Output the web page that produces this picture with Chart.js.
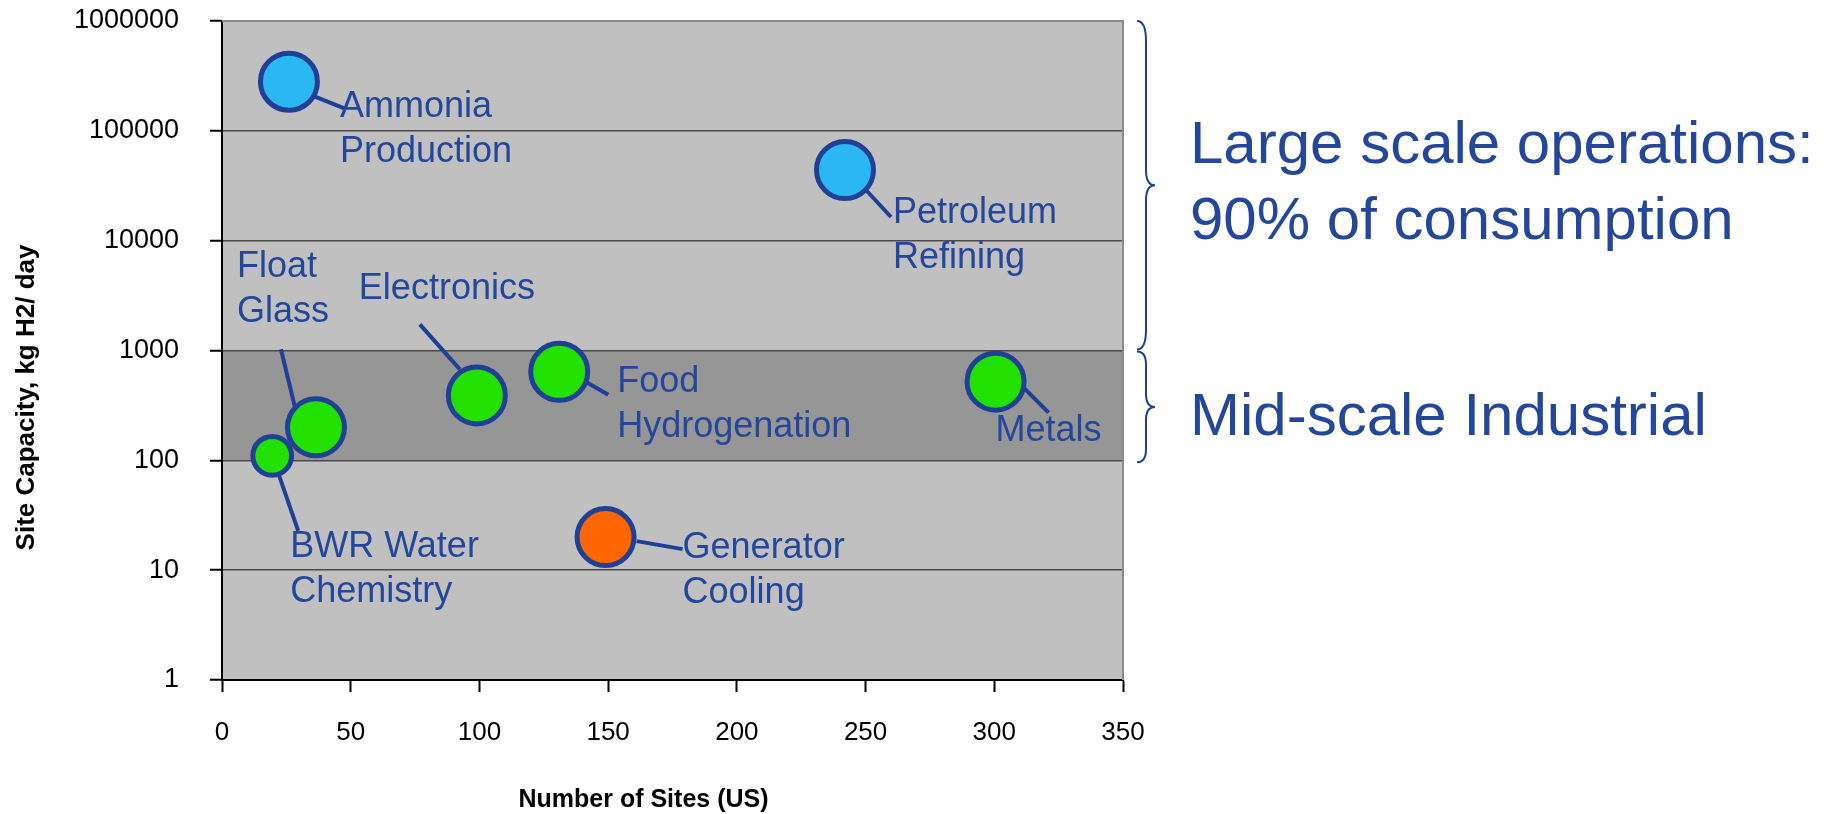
<!DOCTYPE html>
<html>
<head>
<meta charset="utf-8">
<title>Hydrogen demand by industry</title>
<script src="https://cdn.jsdelivr.net/npm/chart.js@4/dist/chart.umd.min.js"></script>
<style>
  html, body { margin: 0; padding: 0; background: #ffffff; overflow: hidden; }
  canvas { display: block; }
</style>
</head>
<body>
<canvas id="chart" width="1832" height="814"></canvas>
<script>
// ---- Data -------------------------------------------------------------
const industries = [
  'BWR Water\nChemistry',
  'Float\nGlass',
  'Ammonia\nProduction',
  'Electronics',
  'Food\nHydrogenation',
  'Generator\nCooling',
  'Petroleum\nRefining',
  'Metals'
];
const sitesUS          = [19.5, 36.5, 26, 99, 131, 149, 242, 300.5];
const capacityKgPerDay = [110, 200, 280000, 390, 640, 20, 44000, 520];
const relativeSize     = [0.68, 1, 1, 1, 1, 1, 1, 1];
const segment          = ['mid', 'mid', 'large', 'mid', 'mid', 'small', 'large', 'mid'];

const siteTicks     = [0, 50, 100, 150, 200, 250, 300, 350];
const capacityTicks = [1, 10, 100, 1000, 10000, 100000, 1000000];

const midScaleRange   = [100, 1000];
const largeScaleRange = [1000, 1000000];

const sideNotes = {
  large: ['Large scale operations:', '90% of consumption'],
  mid: ['Mid-scale Industrial']
};

const xTitle = 'Number of Sites (US)';
const yTitle = 'Site Capacity, kg H2/ day';

// ---- Styling ----------------------------------------------------------
const FONT = "'Liberation Sans', Arial, Helvetica, sans-serif";
const INK = '#24479b';
const OUTLINE = '#1f4095';
const segmentFill = { large: '#2bb8f2', mid: '#22e000', small: '#ff6600' };
const BASE_RADIUS = 28.5;

// leader line (from/to) and first text baseline, relative to each bubble centre
const labelPlacement = {
  'Ammonia\nProduction':   { leader: [26, 15, 56, 27],   text: [51, 35] },
  'Petroleum\nRefining':   { leader: [21, 20, 46, 47],   text: [48, 53] },
  'Float\nGlass':          { leader: [-21, -20, -35, -78], text: [-79, -150] },
  'BWR Water\nChemistry':  { leader: [7, 20, 26, 75],    text: [18, 101] },
  'Electronics':           { leader: [-17, -26, -57, -71], text: [-118, -96] },
  'Food\nHydrogenation':   { leader: [23, 8, 49, 23],    text: [58, 20] },
  'Metals':                { leader: [28, 6, 53, 31],    text: [0, 59] },
  'Generator\nCooling':    { leader: [31, 4, 77, 12],    text: [77, 21] }
};
const LABEL_LINE_HEIGHT = 45;

const points = industries.map((name, i) => ({
  x: sitesUS[i],
  y: capacityKgPerDay[i],
  r: BASE_RADIUS * relativeSize[i]
}));

// ---- Drawing helpers --------------------------------------------------
function drawBrace(ctx, x0, yTop, yBottom, endCurl, tipCurl) {
  const spine = x0 + 9;
  const tip = x0 + 18;
  const mid = (yTop + yBottom) / 2;
  ctx.beginPath();
  ctx.moveTo(x0, yTop);
  ctx.quadraticCurveTo(spine, yTop, spine, yTop + endCurl);
  ctx.lineTo(spine, mid - tipCurl);
  ctx.quadraticCurveTo(spine, mid, tip, mid);
  ctx.quadraticCurveTo(spine, mid, spine, mid + tipCurl);
  ctx.lineTo(spine, yBottom - endCurl);
  ctx.quadraticCurveTo(spine, yBottom, x0, yBottom);
  ctx.stroke();
}

const decorations = {
  id: 'decorations',
  beforeDraw(chart) {
    const { ctx, chartArea: a, scales: { y } } = chart;
    ctx.save();
    ctx.fillStyle = '#c0c0c0';
    ctx.fillRect(a.left, a.top, a.right - a.left, a.bottom - a.top);
    const bandTop = y.getPixelForValue(midScaleRange[1]);
    const bandBottom = y.getPixelForValue(midScaleRange[0]);
    ctx.fillStyle = '#969696';
    ctx.fillRect(a.left, bandTop, a.right - a.left, bandBottom - bandTop);
    ctx.restore();
  },
  beforeDatasetsDraw(chart) {
    const { ctx } = chart;
    const meta = chart.getDatasetMeta(0);
    ctx.save();
    ctx.strokeStyle = OUTLINE;
    ctx.lineWidth = 4;
    ctx.lineCap = 'butt';
    meta.data.forEach((el, i) => {
      const p = labelPlacement[industries[i]];
      if (!p) return;
      ctx.beginPath();
      ctx.moveTo(el.x + p.leader[0], el.y + p.leader[1]);
      ctx.lineTo(el.x + p.leader[2], el.y + p.leader[3]);
      ctx.stroke();
    });
    ctx.restore();
  },
  afterDatasetsDraw(chart) {
    const { ctx } = chart;
    const meta = chart.getDatasetMeta(0);
    ctx.save();
    ctx.fillStyle = INK;
    ctx.font = '36px ' + FONT;
    ctx.textAlign = 'left';
    ctx.textBaseline = 'alphabetic';
    meta.data.forEach((el, i) => {
      const p = labelPlacement[industries[i]];
      if (!p) return;
      industries[i].split('\n').forEach((line, k) => {
        ctx.fillText(line, el.x + p.text[0], el.y + p.text[1] + k * LABEL_LINE_HEIGHT);
      });
    });
    ctx.restore();
  },
  afterDraw(chart) {
    const { ctx, chartArea: a, scales: { y } } = chart;
    ctx.save();

    // top and right frame of the plot area
    ctx.strokeStyle = '#8a8a8a';
    ctx.lineWidth = 2;
    ctx.beginPath();
    ctx.moveTo(a.left, a.top);
    ctx.lineTo(a.right, a.top);
    ctx.lineTo(a.right, a.bottom);
    ctx.stroke();

    // axis titles
    ctx.fillStyle = '#000000';
    ctx.font = 'bold 25px ' + FONT;
    ctx.textAlign = 'center';
    ctx.textBaseline = 'alphabetic';
    ctx.fillText(xTitle, 643.5, 807);

    ctx.save();
    ctx.translate(33.5, 397.5);
    ctx.rotate(-Math.PI / 2);
    ctx.font = 'bold 26px ' + FONT;
    ctx.fillText(yTitle, 0, 0);
    ctx.restore();

    // braces marking the large and mid-scale capacity ranges
    ctx.strokeStyle = OUTLINE;
    ctx.lineWidth = 2;
    const braceX = a.right + 14;
    drawBrace(ctx, braceX,
      y.getPixelForValue(largeScaleRange[1]),
      y.getPixelForValue(largeScaleRange[0]) - 1, 20, 15);
    drawBrace(ctx, braceX,
      y.getPixelForValue(midScaleRange[1]) + 1,
      y.getPixelForValue(midScaleRange[0]) + 2, 13, 13);

    // notes beside the braces
    ctx.fillStyle = INK;
    ctx.font = '60px ' + FONT;
    ctx.textAlign = 'left';
    const noteX = a.right + 67;
    sideNotes.large.forEach((line, k) => ctx.fillText(line, noteX, 163 + k * 76));
    sideNotes.mid.forEach((line, k) => ctx.fillText(line, noteX, 435 + k * 76));

    ctx.restore();
  }
};

// ---- Chart ------------------------------------------------------------
new Chart(document.getElementById('chart'), {
  type: 'bubble',
  data: {
    datasets: [{
      label: 'Site capacity',
      data: points,
      backgroundColor: segment.map(s => segmentFill[s]),
      borderColor: OUTLINE,
      borderWidth: 5,
      hoverBorderWidth: 5
    }]
  },
  options: {
    responsive: false,
    devicePixelRatio: 1,
    animation: false,
    events: [],
    layout: {
      autoPadding: false,
      padding: { top: 21, right: 709, bottom: 0, left: 0 }
    },
    plugins: {
      legend: { display: false },
      tooltip: { enabled: false },
      title: { display: false }
    },
    scales: {
      x: {
        type: 'linear',
        min: siteTicks[0],
        max: siteTicks[siteTicks.length - 1],
        afterBuildTicks: s => { s.ticks = siteTicks.map(v => ({ value: v })); },
        afterFit: s => { s.height = 134; },
        ticks: {
          padding: 25,
          color: '#000000',
          font: { family: FONT, size: 26 },
          callback: v => String(v)
        },
        grid: {
          drawOnChartArea: false,
          drawTicks: true,
          tickLength: 12,
          tickColor: '#000000',
          tickWidth: 2
        },
        border: { display: true, color: '#000000', width: 2 }
      },
      y: {
        type: 'logarithmic',
        min: capacityTicks[0],
        max: capacityTicks[capacityTicks.length - 1],
        afterBuildTicks: s => { s.ticks = capacityTicks.map(v => ({ value: v })); },
        afterFit: s => {
          s.width = 222;
          // the end labels fit inside the layout padding, so no extra overhang is needed
          s.paddingTop = 0;
          s.paddingBottom = 0;
        },
        ticks: {
          padding: 31,
          color: '#000000',
          autoSkip: false,
          font: { family: FONT, size: 27 },
          callback: v => String(v)
        },
        grid: {
          drawOnChartArea: true,
          drawTicks: true,
          tickLength: 12,
          tickColor: '#000000',
          tickWidth: 2,
          lineWidth: 1.5,
          color: c => (c.tick && c.tick.value === capacityTicks[capacityTicks.length - 1]) ? '#8a8a8a' : '#4a4a4a'
        },
        border: { display: true, color: '#000000', width: 2 }
      }
    }
  },
  plugins: [decorations]
});
</script>
</body>
</html>
